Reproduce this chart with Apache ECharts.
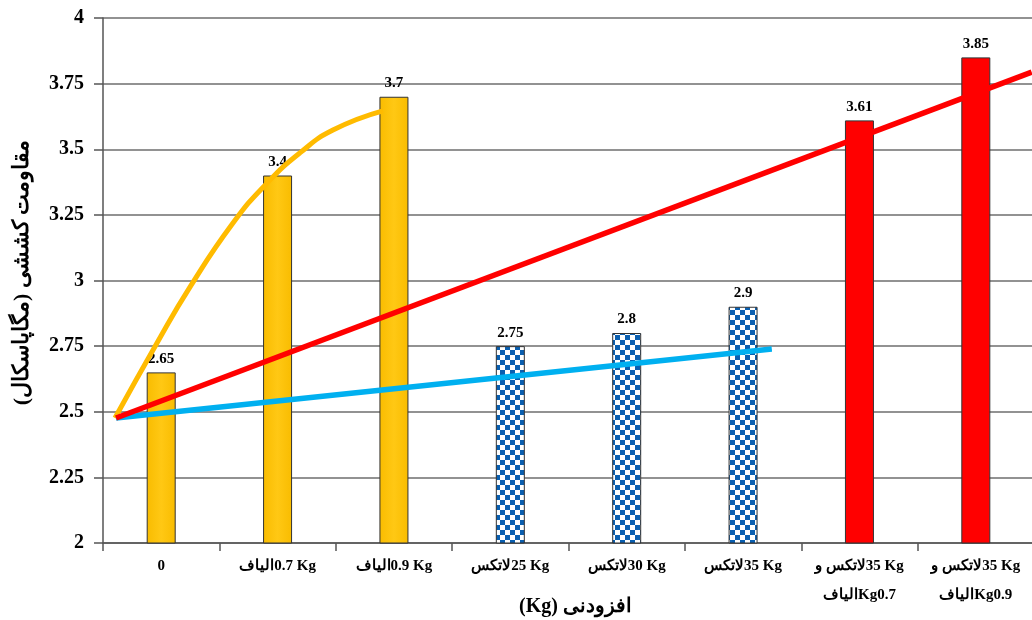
<!DOCTYPE html>
<html>
<head>
<meta charset="utf-8">
<script src="https://cdn.jsdelivr.net/npm/echarts@6/dist/echarts.min.js"></script>
<style>
  html, body { margin: 0; padding: 0; background: #fff; }
  #chart { width: 1032px; height: 620px; }
</style>
</head>
<body>
<div id="chart"></div>
<script>
// Category labels (two-line labels for the combined mixes)
const categories = [
  '0',
  'الیاف\u200E0.7 Kg',
  'الیاف\u200E0.9 Kg',
  'لاتکس\u200E25 Kg',
  'لاتکس\u200E30 Kg',
  'لاتکس\u200E35 Kg',
  'لاتکس و\u200E35 Kg\nالیاف\u200EKg0.7',
  'لاتکس و\u200E35 Kg\nالیاف\u200EKg0.9'
];

// Tensile strength (MPa) per mix
const values = [2.65, 3.4, 3.7, 2.75, 2.8, 2.9, 3.61, 3.85];

// Bar fill group per category: fibre, latex, fibre + latex
const groups = ['fibre', 'fibre', 'fibre', 'latex', 'latex', 'latex', 'mix', 'mix'];

// Trend lines in category units (x from 0 to 8 across the plot)
const fibreTrend = [
  [0.103, 2.476], [0.464, 2.762], [0.747, 2.975], [1.117, 3.219],
  [1.409, 3.371], [1.692, 3.486], [1.976, 3.573], [2.405, 3.646]
];
const mixTrend = [[0.112, 2.476], [7.98, 3.794]];
const latexTrend = [[0.112, 2.476], [5.747, 2.739]];

// Y axis range
const yMin = 2, yMax = 4, yStep = 0.25;

// Checkered blue/white fill for the latex bars
function checkerPattern() {
  const c = document.createElement('canvas');
  const s = 5;
  c.width = s * 2; c.height = s * 2;
  const g = c.getContext('2d');
  g.fillStyle = '#ffffff';
  g.fillRect(0, 0, s * 2, s * 2);
  g.fillStyle = '#0a5fb0';
  g.fillRect(0, 0, s, s);
  g.fillRect(s, s, s, s);
  return c;
}

const fibreFill = {
  type: 'linear', x: 0, y: 0, x2: 1, y2: 0,
  colorStops: [
    { offset: 0, color: '#f9bc00' },
    { offset: 0.5, color: '#ffc814' },
    { offset: 1, color: '#f9bc00' }
  ]
};
const fills = {
  fibre: fibreFill,
  latex: { image: checkerPattern(), repeat: 'repeat' },
  mix: '#ff0000'
};

const barData = values.map((v, i) => ({
  value: v,
  itemStyle: { color: fills[groups[i]], borderColor: '#333', borderWidth: 1 }
}));

const serif = '"Liberation Serif", "Times New Roman", "DejaVu Serif", serif';

const chart = echarts.init(document.getElementById('chart'));
chart.setOption({
  backgroundColor: '#ffffff',
  animation: false,
  grid: {
    left: 103, top: 18, right: -2, bottom: 77,
    containLabel: false, outerBoundsMode: 'none'
  },
  xAxis: [
    {
      type: 'category',
      data: categories,
      axisLine: { lineStyle: { color: '#555', width: 1.5 } },
      axisTick: { show: true, length: 8, lineStyle: { color: '#555', width: 1.5 } },
      axisLabel: {
        color: '#000', fontFamily: serif, fontWeight: 'bold', fontSize: 15,
        margin: 9, lineHeight: 29, interval: 0
      },
      name: '(Kg) افزودنی',
      nameLocation: 'middle',
      nameGap: 54,
      nameMoveOverlap: false,
      nameTextStyle: {
        color: '#000', fontFamily: serif, fontWeight: 'bold', fontSize: 20,
        verticalAlign: 'top', padding: [0, 0, 0, 14]
      }
    },
    {
      type: 'value', min: 0, max: 8, show: false
    }
  ],
  yAxis: {
    type: 'value',
    min: yMin, max: yMax, interval: yStep,
    axisLine: { show: true, lineStyle: { color: '#555', width: 1.5 } },
    axisTick: { show: true, length: 9, lineStyle: { color: '#555', width: 1.5 } },
    splitLine: { show: true, lineStyle: { color: '#6e6e6e', width: 1.5 } },
    axisLabel: {
      color: '#000', fontFamily: serif, fontWeight: 'bold', fontSize: 20, margin: 19
    },
    name: 'مقاومت کششی (مگاپاسکال)\u200F',
    nameLocation: 'middle',
    nameRotate: 90,
    nameGap: 70,
    nameMoveOverlap: false,
    nameTextStyle: {
      color: '#000', fontFamily: serif, fontWeight: 'bold', fontSize: 22,
      padding: [0, 0, 0, 16]
    }
  },
  series: [
    {
      type: 'bar',
      data: barData,
      barWidth: 29,
      z: 2,
      label: {
        show: true, position: 'top', distance: 6,
        color: '#000', fontFamily: serif, fontWeight: 'bold', fontSize: 15
      }
    },
    {
      type: 'line', xAxisIndex: 1, data: fibreTrend, smooth: 0.5,
      showSymbol: false, z: 4,
      lineStyle: { color: '#ffbb00', width: 5 }
    },
    {
      type: 'line', xAxisIndex: 1, data: latexTrend,
      showSymbol: false, z: 4,
      lineStyle: { color: '#00b0f0', width: 5.5 }
    },
    {
      type: 'line', xAxisIndex: 1, data: mixTrend,
      showSymbol: false, z: 5,
      lineStyle: { color: '#ff0000', width: 5.5 }
    }
  ]
});
</script>
</body>
</html>
